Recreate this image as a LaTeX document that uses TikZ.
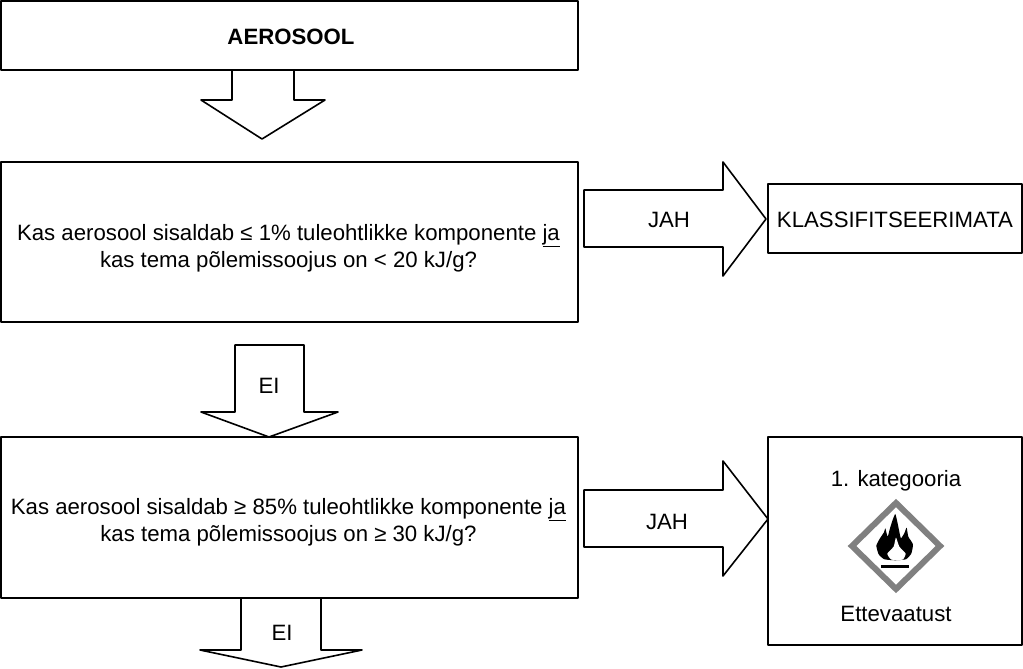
\documentclass[tikz,border=0pt]{standalone}
\usepackage{fontspec}
\setmainfont{Liberation Sans}
\tikzset{
	kast/.style={draw,line width=1.6pt,inner sep=0pt},
	nool/.style={draw,line width=1.6pt,line join=round},
	silt/.style={inner sep=0pt,align=center}
}
\begin{document}
\begin{tikzpicture}[x=1pt,y=-1pt,line join = round,font=\fontsize{22.2}{27}\selectfont]
	\useasboundingbox (0,0) rectangle (1023,669);
	%kastid
	\node[kast,minimum width=577pt,minimum height=69pt] (aerosool) at (289.5,35.5) {};
	\node[kast,minimum width=577pt,minimum height=160pt] (kysimus1) at (289.5,242) {};
	\node[kast,minimum width=577pt,minimum height=161pt] (kysimus2) at (289.5,517.5) {};
	\node[kast,minimum width=254pt,minimum height=69pt] (klass) at (895,218.5) {};
	\node[kast,minimum width=254pt,minimum height=208pt] (kat) at (895,541) {};
	%tekstid
	\node[silt,font=\fontsize{22.2}{27}\selectfont\bfseries] (aerosooltekst) at (291,37) {AEROSOOL};
	\node[silt] (tekst1) at (288.5,248) {Kas aerosool sisaldab ≤ 1\% tuleohtlikke komponente \underline{ja}\\kas tema põlemissoojus on < 20 kJ/g?};
	\node[silt] (tekst2) at (288.5,522) {Kas aerosool sisaldab ≥ 85\% tuleohtlikke komponente \underline{ja}\\kas tema põlemissoojus on ≥ 30 kJ/g?};
	\node[silt] (klasstekst) at (895,220) {KLASSIFITSEERIMATA};
	%nooled alla
	\draw[nool](232,70)--(232,100)--(201,100)--(262,139)--(325,100)--(294,100)--(294,70);
	\draw[nool](235,345)--(235,412)--(201,412)--(269,437)--(338,412)--(304,412)--(304,345)--cycle;
	\draw[nool](241,598)--(241,650)--(200,650)--(281,667)--(362,650)--(321,650)--(321,598);
	\node[silt] (ei1) at (269,386) {EI};
	\node[silt] (ei2) at (282,633) {EI};
	%nooled paremale
	\draw[nool](584,190)--(723,190)--(723,162)--(766,219)--(723,276)--(723,247)--(584,247)--cycle;
	\draw[nool](584,490)--(723,490)--(723,461)--(768,519)--(723,576)--(723,547)--(584,547)--cycle;
	\node[silt] (jah1) at (669,220) {JAH};
	\node[silt] (jah2) at (667,522) {JAH};
	%kategooria
	\node[silt] (kat1) at (896,481) {1. kategooria};
	\node[silt] (ettev) at (896,614) {Ettevaatust};
	\draw[color=gray,line width=6pt,line join=miter](896,503)coordinate(T)--(940,546)--(896,589)--(852,546)--cycle;
	\begin{scope}[shift={(866,505)},x=.333pt,y=-.333pt]
		\fill[black] plot[smooth cycle,tension=.3] coordinates {(88,166)(55,163)(38,148)(31,122)(42,100)(54,82)(58,70)(65,95)(72,70)(80,45)(88,27)(95,55)(100,80)(105,100)(115,85)(122,68)(127,95)(141,118)(136,146)(120,163)};
		\fill[white] plot[smooth cycle,tension=.3] coordinates {(90,98)(83,125)(64,146)(76,164)(110,164)(119,146)(100,125)};
		\fill[black] (45,179) rectangle (130,188);
	\end{scope}
\end{tikzpicture}
\end{document}
